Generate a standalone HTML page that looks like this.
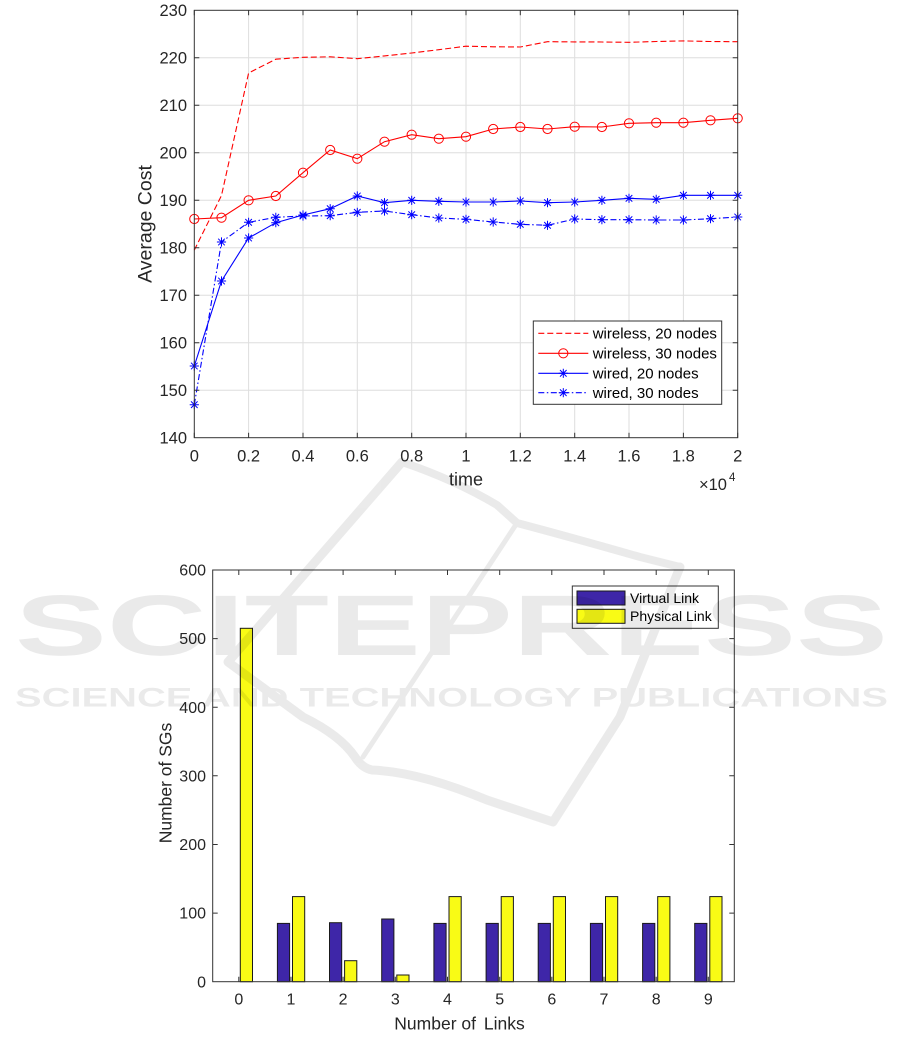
<!DOCTYPE html>
<html><head><meta charset="utf-8"><style>html,body{margin:0;padding:0;background:#fff}svg{display:block}</style></head>
<body>
<svg width="901" height="1037" viewBox="0 0 901 1037" xmlns="http://www.w3.org/2000/svg" font-family="Liberation Sans, Arial, sans-serif">
<defs>
<marker id="mc" viewBox="-6 -6 12 12" markerWidth="12" markerHeight="12" refX="0" refY="0" markerUnits="userSpaceOnUse" overflow="visible"><circle r="4.6" fill="none" stroke="#ff0000" stroke-width="1"/></marker>
<marker id="ms" viewBox="-6 -6 12 12" markerWidth="12" markerHeight="12" refX="0" refY="0" markerUnits="userSpaceOnUse" overflow="visible"><path d="M0,-4.6V4.6M-4.6,0H4.6M-3.3,-3.3L3.3,3.3M-3.3,3.3L3.3,-3.3" stroke="#0000ff" stroke-width="1" fill="none" stroke-dasharray="none"/></marker>
</defs>
<rect width="901" height="1037" fill="#fff"/>

<!-- ===== TOP CHART ===== -->
<g stroke="#dedede" stroke-width="1">
<line x1="248.6" y1="10.3" x2="248.6" y2="437.7"/><line x1="303.0" y1="10.3" x2="303.0" y2="437.7"/>
<line x1="357.3" y1="10.3" x2="357.3" y2="437.7"/><line x1="411.7" y1="10.3" x2="411.7" y2="437.7"/>
<line x1="466.0" y1="10.3" x2="466.0" y2="437.7"/><line x1="520.3" y1="10.3" x2="520.3" y2="437.7"/>
<line x1="574.7" y1="10.3" x2="574.7" y2="437.7"/><line x1="629.0" y1="10.3" x2="629.0" y2="437.7"/>
<line x1="683.4" y1="10.3" x2="683.4" y2="437.7"/>
<line x1="194.3" y1="390.2" x2="737.7" y2="390.2"/><line x1="194.3" y1="342.7" x2="737.7" y2="342.7"/>
<line x1="194.3" y1="295.2" x2="737.7" y2="295.2"/><line x1="194.3" y1="247.7" x2="737.7" y2="247.7"/>
<line x1="194.3" y1="200.2" x2="737.7" y2="200.2"/><line x1="194.3" y1="152.8" x2="737.7" y2="152.8"/>
<line x1="194.3" y1="105.3" x2="737.7" y2="105.3"/><line x1="194.3" y1="57.8" x2="737.7" y2="57.8"/>
</g>

<!-- series -->
<polyline fill="none" stroke="#ff0000" stroke-width="1.1" stroke-dasharray="6,3"
points="194.3,250.1 221.5,195.5 248.6,73.0 275.8,59.2 303.0,57.3 330.2,56.8 357.3,58.7 384.5,55.9 411.7,53.0 438.8,49.7 466.0,46.2 493.2,46.8 520.3,47.0 547.5,41.7 574.7,41.9 601.9,42.0 629.0,42.3 656.2,41.5 683.4,40.9 710.5,41.5 737.7,41.7"/>
<polyline fill="none" stroke="#ff0000" stroke-width="1.1" marker-start="url(#mc)" marker-mid="url(#mc)" marker-end="url(#mc)"
points="194.3,219.0 221.5,217.7 248.6,200.3 275.8,196.0 303.0,172.7 330.2,150.0 357.3,158.7 384.5,141.7 411.7,134.7 438.8,138.7 466.0,136.7 493.2,129.0 520.3,127.0 547.5,129.0 574.7,126.7 601.9,127.0 629.0,123.3 656.2,122.7 683.4,122.7 710.5,120.3 737.7,118.3"/>
<polyline fill="none" stroke="#0000ff" stroke-width="1.1" marker-start="url(#ms)" marker-mid="url(#ms)" marker-end="url(#ms)"
points="194.3,366.0 221.5,281.0 248.6,238.0 275.8,222.7 303.0,215.0 330.2,208.7 357.3,196.0 384.5,202.7 411.7,200.3 438.8,201.3 466.0,202.0 493.2,202.0 520.3,201.0 547.5,202.7 574.7,202.0 601.9,200.3 629.0,198.3 656.2,199.3 683.4,195.3 710.5,195.3 737.7,195.3"/>
<polyline fill="none" stroke="#0000ff" stroke-width="1.1" stroke-dasharray="6,2.5,1.5,2.5" marker-start="url(#ms)" marker-mid="url(#ms)" marker-end="url(#ms)"
points="194.3,404.7 221.5,242.0 248.6,222.3 275.8,217.3 303.0,216.0 330.2,215.7 357.3,212.3 384.5,211.0 411.7,214.7 438.8,218.0 466.0,219.3 493.2,222.0 520.3,224.3 547.5,225.3 574.7,219.0 601.9,219.7 629.0,219.7 656.2,220.0 683.4,220.0 710.5,218.7 737.7,217.0"/>

<!-- axes box & ticks -->
<rect x="194.3" y="10.3" width="543.4" height="427.4" fill="none" stroke="#333" stroke-width="1"/>
<g stroke="#333" stroke-width="1">
<path d="M194.3,437.7v-5M248.6,437.7v-5M303.0,437.7v-5M357.3,437.7v-5M411.7,437.7v-5M466.0,437.7v-5M520.3,437.7v-5M574.7,437.7v-5M629.0,437.7v-5M683.4,437.7v-5M737.7,437.7v-5"/>
<path d="M194.3,10.3v5M248.6,10.3v5M303.0,10.3v5M357.3,10.3v5M411.7,10.3v5M466.0,10.3v5M520.3,10.3v5M574.7,10.3v5M629.0,10.3v5M683.4,10.3v5M737.7,10.3v5"/>
<path d="M194.3,390.2h5M194.3,342.7h5M194.3,295.2h5M194.3,247.7h5M194.3,200.2h5M194.3,152.8h5M194.3,105.3h5M194.3,57.8h5"/>
<path d="M737.7,390.2h-5M737.7,342.7h-5M737.7,295.2h-5M737.7,247.7h-5M737.7,200.2h-5M737.7,152.8h-5M737.7,105.3h-5M737.7,57.8h-5"/>
</g>
<g fill="#262626" font-size="16.5" text-anchor="end">
<text x="187" y="443.5">140</text><text x="187" y="396">150</text><text x="187" y="348.5">160</text>
<text x="187" y="301">170</text><text x="187" y="253.5">180</text><text x="187" y="206">190</text>
<text x="187" y="158.6">200</text><text x="187" y="111.1">210</text><text x="187" y="63.6">220</text>
<text x="187" y="16.1">230</text>
</g>
<g fill="#262626" font-size="16.5" text-anchor="middle">
<text x="194.3" y="461.7">0</text><text x="248.6" y="461.7">0.2</text><text x="303.0" y="461.7">0.4</text>
<text x="357.3" y="461.7">0.6</text><text x="411.7" y="461.7">0.8</text><text x="466.0" y="461.7">1</text>
<text x="520.3" y="461.7">1.2</text><text x="574.7" y="461.7">1.4</text><text x="629.0" y="461.7">1.6</text>
<text x="683.4" y="461.7">1.8</text><text x="737.7" y="461.7">2</text>
</g>
<text x="466" y="485.5" font-size="18" fill="#262626" text-anchor="middle">time</text>
<text x="699" y="490" font-size="16.5" fill="#262626">×10</text>
<text x="729" y="481" font-size="11.5" fill="#262626">4</text>
<text transform="translate(151.7,224) rotate(-90)" font-size="19.5" fill="#262626" text-anchor="middle">Average Cost</text>

<!-- top legend -->
<rect x="533.3" y="321" width="188.4" height="83.3" fill="#fff" stroke="#333" stroke-width="1"/>
<line x1="538.3" y1="333.3" x2="588.3" y2="333.3" stroke="#ff0000" stroke-width="1.1" stroke-dasharray="6,3"/>
<line x1="538.3" y1="353.3" x2="588.3" y2="353.3" stroke="#ff0000" stroke-width="1.1"/>
<circle cx="563.3" cy="353.3" r="4.6" fill="none" stroke="#ff0000" stroke-width="1"/>
<polyline points="538.3,373.3 563.3,373.3 588.3,373.3" fill="none" stroke="#0000ff" stroke-width="1.1" marker-mid="url(#ms)"/>
<polyline points="538.3,392.7 563.3,392.7 588.3,392.7" fill="none" stroke="#0000ff" stroke-width="1.1" stroke-dasharray="6,2.5,1.5,2.5" marker-mid="url(#ms)"/>
<g fill="#000" font-size="15">
<text x="592.7" y="338.6">wireless, 20 nodes</text>
<text x="592.7" y="358.6">wireless, 30 nodes</text>
<text x="592.7" y="378.6">wired, 20 nodes</text>
<text x="592.7" y="398">wired, 30 nodes</text>
</g>

<!-- ===== BOTTOM CHART ===== -->
<g stroke="#333" stroke-width="1">
<path d="M238.8,981.7v-5M291.0,981.7v-5M343.1,981.7v-5M395.3,981.7v-5M447.5,981.7v-5M499.7,981.7v-5M551.8,981.7v-5M604.0,981.7v-5M656.2,981.7v-5M708.3,981.7v-5"/>
<path d="M238.8,570v5M291.0,570v5M343.1,570v5M395.3,570v5M447.5,570v5M499.7,570v5M551.8,570v5M604.0,570v5M656.2,570v5M708.3,570v5"/>
<path d="M212.7,913.1h5M212.7,844.5h5M212.7,775.8h5M212.7,707.2h5M212.7,638.6h5"/>
<path d="M734.3,913.1h-5M734.3,844.5h-5M734.3,775.8h-5M734.3,707.2h-5M734.3,638.6h-5"/>
</g>
<g stroke="#1a1a1a" stroke-width="1">
<g fill="#3E26A8">
<rect x="277.4" y="923.4" width="12.2" height="58.3"/>
<rect x="329.5" y="922.7" width="12.2" height="59.0"/>
<rect x="381.7" y="919.0" width="12.2" height="62.7"/>
<rect x="433.9" y="923.4" width="12.2" height="58.3"/>
<rect x="486.1" y="923.4" width="12.2" height="58.3"/>
<rect x="538.2" y="923.4" width="12.2" height="58.3"/>
<rect x="590.4" y="923.4" width="12.2" height="58.3"/>
<rect x="642.6" y="923.4" width="12.2" height="58.3"/>
<rect x="694.7" y="923.4" width="12.2" height="58.3"/>
</g>
<g fill="#F9FB15">
<rect x="240.3" y="628.3" width="12.2" height="353.4"/>
<rect x="292.5" y="896.6" width="12.2" height="85.1"/>
<rect x="344.6" y="960.7" width="12.2" height="21.0"/>
<rect x="396.8" y="975.0" width="12.2" height="6.7"/>
<rect x="449.0" y="896.6" width="12.2" height="85.1"/>
<rect x="501.2" y="896.6" width="12.2" height="85.1"/>
<rect x="553.3" y="896.6" width="12.2" height="85.1"/>
<rect x="605.5" y="896.6" width="12.2" height="85.1"/>
<rect x="657.7" y="896.6" width="12.2" height="85.1"/>
<rect x="709.8" y="896.6" width="12.2" height="85.1"/>
</g>
</g>
<rect x="212.7" y="570" width="521.6" height="411.7" fill="none" stroke="#333" stroke-width="1"/>
<g fill="#262626" font-size="16" text-anchor="end">
<text x="206" y="987.3">0</text><text x="206" y="918.7">100</text><text x="206" y="850.1">200</text>
<text x="206" y="781.4">300</text><text x="206" y="712.8">400</text><text x="206" y="644.2">500</text>
<text x="206" y="575.6">600</text>
</g>
<g fill="#262626" font-size="16" text-anchor="middle">
<text x="238.8" y="1004.5">0</text><text x="291.0" y="1004.5">1</text><text x="343.1" y="1004.5">2</text>
<text x="395.3" y="1004.5">3</text><text x="447.5" y="1004.5">4</text><text x="499.7" y="1004.5">5</text>
<text x="551.8" y="1004.5">6</text><text x="604.0" y="1004.5">7</text><text x="656.2" y="1004.5">8</text>
<text x="708.3" y="1004.5">9</text>
</g>
<text x="459.5" y="1029.5" font-size="17.5" fill="#262626" text-anchor="middle">Number of <tspan dx="3">Links</tspan></text>
<text transform="translate(171.7,783) rotate(-90)" font-size="17.5" fill="#262626" text-anchor="middle">Number of SGs</text>

<!-- bottom legend -->
<rect x="572.3" y="586" width="146" height="42.3" fill="#fff" stroke="#333" stroke-width="1"/>
<rect x="577" y="591" width="48" height="14" fill="#3E26A8" stroke="#1a1a1a" stroke-width="1"/>
<rect x="577" y="609.3" width="48" height="14" fill="#F9FB15" stroke="#1a1a1a" stroke-width="1"/>
<g fill="#000" font-size="14">
<text x="630" y="603">Virtual Link</text>
<text x="630" y="621">Physical Link</text>
</g>

<!-- ===== WATERMARK ===== -->
<g opacity="0.08">
<g fill="none" stroke="#000" stroke-linejoin="round" stroke-linecap="round">
<path d="M402,462 L228,662 L303,717 Q340,735 355,757 Q362,768 372,770 Q420,772 487,800 L553,822 L620,717 L680,567" stroke-width="9"/>
<path d="M402,462 Q455,480 497,505 L517,523 Q570,537 640,557 L680,567" stroke-width="8"/>
<path d="M363,757 L517,523" stroke-width="5"/>
</g>
<text x="15" y="655" font-size="86" font-weight="bold" fill="#000" textLength="873" lengthAdjust="spacingAndGlyphs">SCITEPRESS</text>
<text x="15" y="706.7" font-size="26.5" font-weight="bold" fill="#000" textLength="873" lengthAdjust="spacingAndGlyphs">SCIENCE AND TECHNOLOGY PUBLICATIONS</text>
</g>
</svg>
</body></html>
